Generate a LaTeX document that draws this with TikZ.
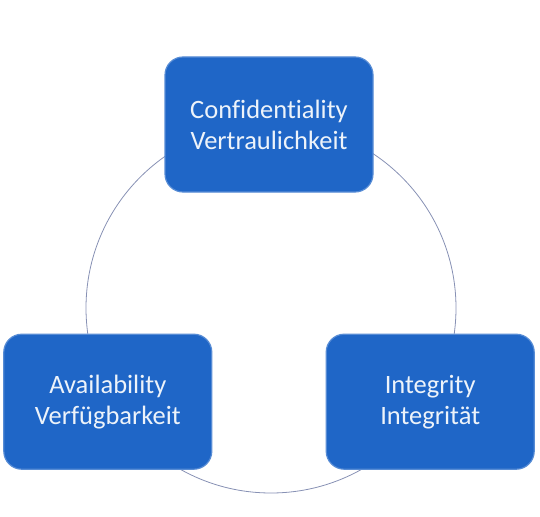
\documentclass[tikz,border=0pt]{standalone}
\usepackage{fontspec}
\setmainfont[Ligatures=NoCommon]{Carlito}
\usetikzlibrary{positioning}
\definecolor{ciablue}{RGB}{31,102,199}
\definecolor{ringgray}{RGB}{135,145,180}

\begin{document}
\begin{tikzpicture}[x=1pt, y=-1pt, box/.style={draw=ciablue!75!white, line width=1.2pt, fill=ciablue, rounded corners=18pt, minimum width=208pt, minimum height=135pt, align=center, text=white!92!ciablue, font=\fontsize{26.5}{31}\selectfont}]
\useasboundingbox (0,0) rectangle (540,516);
\coordinate (mid) at (271,308);
\draw[ringgray, line width=0.8pt] (mid) circle (185pt);
\node[box] (conf) at (269,124.5) {Confidentiality\\Vertraulichkeit};
\node[box, below left=141pt and -48pt of conf] (avail) {Availability\\Verfügbarkeit};
\node[box, below right=141pt and -48pt of conf] (integ) {Integrity\\Integrität};
\end{tikzpicture}
\end{document}
